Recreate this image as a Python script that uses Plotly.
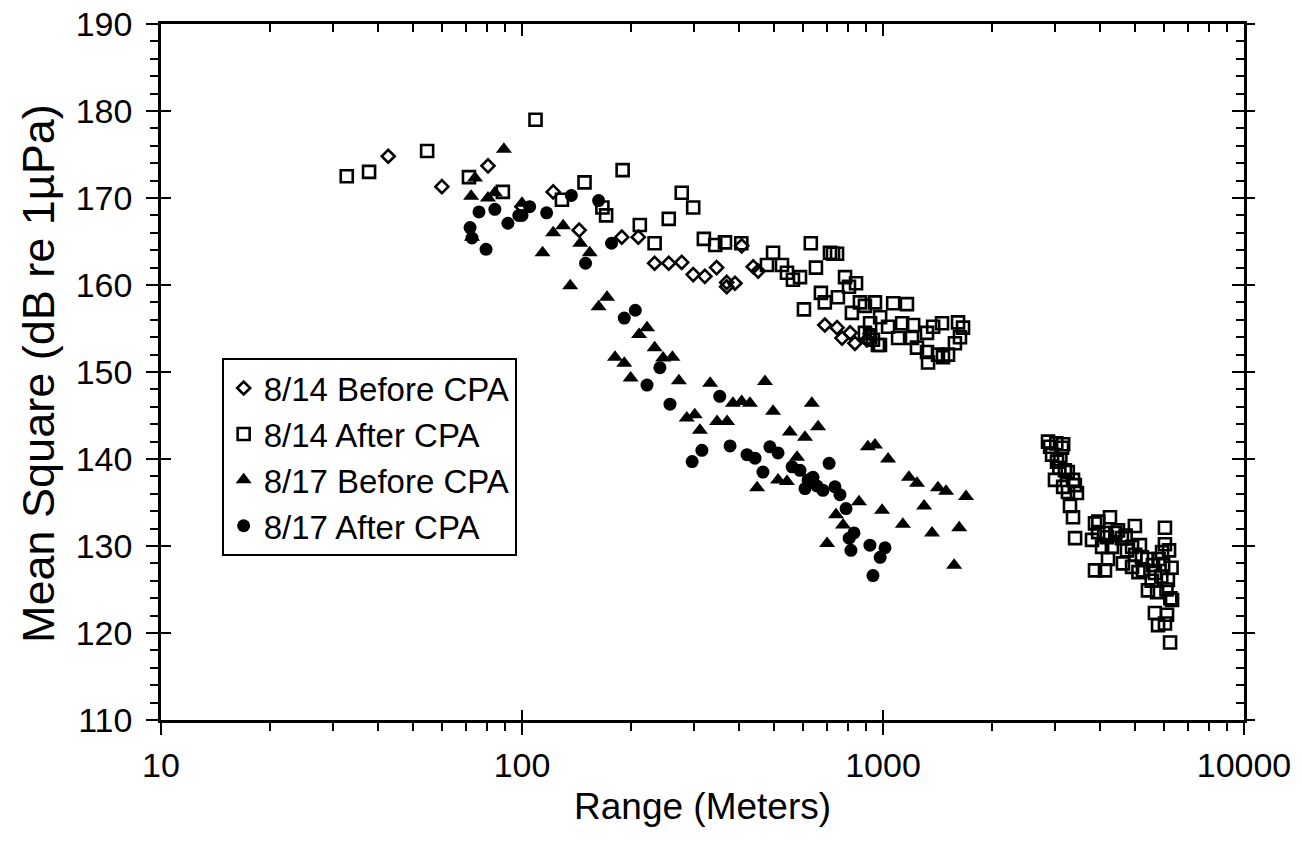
import plotly.graph_objects as go

# ---- data (Range in meters, Mean Square in dB re 1uPa) ----
d14_before_x = [42.6, 60, 80.5, 100, 122, 144, 189, 210, 233, 255, 277, 298, 321, 346, 369, 389, 369,
                406, 437, 451, 690, 746, 770, 811, 836, 903, 921]
d14_before_y = [174.8, 171.3, 173.7, 169.0, 170.7, 166.3, 165.5, 165.5, 162.5, 162.5, 162.6, 161.2, 161.0,
                162.0, 159.8, 160.2, 160.3, 164.5, 162.1, 161.6, 155.4, 155.1, 153.9, 154.5, 153.3, 153.7, 154.4]

d14_after_x = [32.7, 37.7, 54.6, 71.3, 88.5, 109, 129, 149, 167, 171, 190, 212, 233, 255, 277, 298, 319,
               343, 365, 405, 477, 496, 525, 542, 563, 589, 604, 631, 652, 673, 690, 713, 727, 746, 750,
               785, 805, 820, 842, 863, 891, 950, 1067, 1165, 921, 982, 1033, 1130, 1212, 921, 968, 1101,
               1203, 1242, 1324, 1333, 1420, 1466, 1514, 1377, 1457, 1614, 1666, 1634, 1582, 1324, 891,
               938, 981,
               2865, 2904, 2940, 3133, 3155, 3035, 3190, 2995, 3360, 3155, 3254, 3445, 3296, 3360, 3405,
               3020, 3100, 3250, 3400, 3080,
               3866, 4253, 3945, 3793, 4045, 4171, 4477, 4985, 3866, 4120, 4305, 4590, 4740, 4620, 4897,
               5150, 5215, 4897, 5250, 5595, 5665, 6040, 6040, 5930, 5970, 5420, 5745, 6155, 6320, 5665,
               6120, 6040, 5780, 6240,
               3950, 4100, 4400, 4700, 5000, 5400, 5550, 5900, 6100, 6250, 6300, 4200, 5100, 5800, 6200]
d14_after_y = [172.5, 173.0, 175.4, 172.4, 170.7, 179.0, 169.8, 171.8, 168.9, 168.0, 173.2, 166.9, 164.8,
               167.6, 170.6, 168.9, 165.3, 164.6, 164.9, 164.8, 162.3, 163.7, 162.3, 161.4, 160.6, 160.9,
               157.2, 164.8, 162.0, 159.1, 158.0, 163.7, 163.6, 163.6, 158.6, 160.9, 159.8, 156.8, 160.2,
               158.0, 157.6, 158.0, 157.9, 157.8, 155.6, 156.3, 155.2, 155.6, 155.4, 154.0, 153.1, 153.9,
               153.9, 152.8, 152.3, 151.1, 152.0, 151.7, 152.0, 155.2, 155.6, 155.7, 155.1, 154.0, 153.3,
               154.5, 154.5, 153.7, 153.1,
               142.0, 141.4, 140.5, 141.3, 141.7, 139.7, 138.7, 137.6, 137.6, 136.8, 136.2, 136.1, 134.6,
               133.3, 130.9,
               141.8, 140.0, 138.5, 137.0, 139.0,
               132.6, 133.3, 131.6, 130.7, 129.9, 131.0, 131.8, 132.3, 127.2, 127.2, 129.9, 130.9, 129.5,
               128.0, 129.9, 130.1, 128.7, 127.6, 127.2, 127.8, 126.9, 132.1, 130.2, 129.3, 127.8, 124.9,
               124.7, 126.1, 123.8, 122.3, 122.1, 121.1, 120.9, 118.9,
               132.8, 131.5, 131.5, 131.2, 129.0, 128.5, 126.0, 126.5, 125.0, 124.0, 127.5, 128.5, 127.0,
               128.5, 129.5]

d17_before_x = [72.3, 74.1, 80.5, 84.1, 89.1, 72.7, 100, 114, 122, 130, 145, 154, 136, 163, 172, 211, 222,
                233, 181, 192, 246, 261, 200, 272, 332, 471, 384, 406, 428, 496, 635, 286, 301, 347, 370,
                311, 552, 608, 661, 578, 448, 512, 542, 858, 741, 775, 700, 908, 950, 1033, 994, 1135,
                1180, 1242, 1300, 1420, 1495, 1698, 1367, 1626, 1574]
d17_before_y = [170.2, 172.3, 170.0, 170.6, 175.6, 165.5, 169.4, 163.7, 166.0, 166.8, 164.8, 163.7, 159.9,
                157.5, 158.6, 154.3, 155.1, 152.8, 151.7, 151.0, 151.6, 151.7, 149.3, 149.0, 148.7, 148.9,
                146.4, 146.6, 146.4, 145.5, 146.4, 144.7, 145.1, 144.3, 144.3, 143.3, 143.1, 142.5, 143.7,
                140.2, 136.7, 137.6, 137.4, 135.1, 133.6, 132.4, 130.3, 141.4, 141.6, 140.0, 134.1, 132.5,
                137.9, 137.2, 134.6, 136.7, 136.3, 135.7, 131.5, 132.1, 127.8]

d17_after_x = [71.8, 72.7, 76, 79.5, 84.1, 91.4, 98, 100, 105, 117, 137, 150, 163, 177, 192, 206, 241, 222,
               257, 353, 315, 296, 377, 420, 442, 465, 486, 512, 560, 589, 620, 640, 608, 709, 635, 656,
               682, 736, 760, 790, 831, 806, 815, 920, 1013, 982, 938]
d17_after_y = [166.6, 165.4, 168.4, 164.1, 168.7, 167.1, 168.0, 168.0, 169.0, 168.3, 170.3, 162.5, 169.7,
               164.8, 156.2, 157.1, 150.5, 148.5, 146.3, 147.2, 141.0, 139.7, 141.5, 140.5, 140.1, 138.5,
               141.4, 140.7, 139.1, 138.7, 137.6, 137.9, 136.6, 139.5, 137.8, 136.9, 136.4, 136.8, 135.9,
               134.3, 131.5, 130.9, 129.5, 130.1, 129.8, 128.7, 126.6]

series_names = ["8/14 Before CPA", "8/14 After CPA", "8/17 Before CPA", "8/17 After CPA"]
x_tickvals = [10, 100, 1000, 10000]
x_ticktext = ["10", "100", "1000", "10000"]
y_tickvals = [110, 120, 130, 140, 150, 160, 170, 180, 190]

FONT = "Liberation Sans, Arial, sans-serif"
fig = go.Figure()

fig.add_trace(go.Scatter(x=d14_before_x, y=d14_before_y, mode="markers", name=series_names[0],
                         marker=dict(symbol="diamond-open", size=10, color="black", line=dict(width=2.6))))
fig.add_trace(go.Scatter(x=d14_after_x, y=d14_after_y, mode="markers", name=series_names[1],
                         marker=dict(symbol="square-open", size=12, color="black", line=dict(width=2.6))))
fig.add_trace(go.Scatter(x=d17_before_x, y=d17_before_y, mode="markers", name=series_names[2],
                         marker=dict(symbol="triangle-up", size=14, color="black", line=dict(width=0))))
fig.add_trace(go.Scatter(x=d17_after_x, y=d17_after_y, mode="markers", name=series_names[3],
                         marker=dict(symbol="circle", size=13, color="black", line=dict(width=0))))

# dummy traces so overlay axes are drawn
for xa, ya in [("x2", "y2"), ("x3", "y3"), ("x", "y4")]:
    fig.add_trace(go.Scatter(x=[None], y=[None], xaxis=xa, yaxis=ya, showlegend=False,
                             hoverinfo="skip", mode="markers"))

minor_x = [m * 10 ** d for d in (1, 2, 3) for m in range(2, 10)]
xrange_log = [1, 4]
yrange = [110, 190]

common = dict(showgrid=False, zeroline=False, automargin=False)

fig.update_layout(
    width=1302, height=855,
    margin=dict(l=161, r=58, t=24, b=135),
    paper_bgcolor="white", plot_bgcolor="white",
    font=dict(family=FONT, size=33, color="black"),
    xaxis=dict(type="log", range=xrange_log, tickmode="array", tickvals=x_tickvals, ticktext=x_ticktext,
               ticks="outside", ticklen=12, tickwidth=1.5, tickcolor="black",
               minor=dict(tickmode="array", tickvals=minor_x, ticks="outside", ticklen=8,
                          tickwidth=1.5, tickcolor="black", showgrid=False),
               showline=True, linewidth=2.5, linecolor="black",
               ticklabelstandoff=1, tickfont=dict(size=34), **common),
    xaxis2=dict(type="log", range=xrange_log, overlaying="x", side="top", anchor="y2",
                tickmode="array", tickvals=x_tickvals, ticks="inside", ticklen=12, tickwidth=1.5,
                tickcolor="black", showticklabels=False,
                minor=dict(tickmode="array", tickvals=minor_x, ticks="inside", ticklen=8,
                           tickwidth=1.5, tickcolor="black", showgrid=False),
                showline=True, linewidth=2.5, linecolor="black", **common),
    xaxis3=dict(type="log", range=xrange_log, overlaying="x", side="bottom", anchor="y3",
                tickmode="array", tickvals=x_tickvals, ticks="inside", ticklen=10, tickwidth=1.5,
                tickcolor="black", showticklabels=False, showline=False, **common),
    yaxis=dict(range=yrange, tickmode="array", tickvals=y_tickvals,
               ticks="outside", ticklen=12, tickwidth=1.5, tickcolor="black",
               minor=dict(dtick=2, tick0=110, ticks="outside", ticklen=8, tickwidth=1.5,
                          tickcolor="black", showgrid=False),
               showline=True, linewidth=2.5, linecolor="black",
               ticklabelstandoff=7, tickfont=dict(size=34), **common),
    yaxis2=dict(range=yrange, overlaying="y", side="right", anchor="x2",
                tickmode="array", tickvals=y_tickvals, ticks="inside", ticklen=12, tickwidth=1.5,
                tickcolor="black", showticklabels=False,
                minor=dict(dtick=2, tick0=110, ticks="inside", ticklen=8, tickwidth=1.5,
                           tickcolor="black", showgrid=False),
                showline=True, linewidth=2.5, linecolor="black", **common),
    yaxis3=dict(range=yrange, overlaying="y", side="left", anchor="x3",
                tickmode="array", tickvals=y_tickvals, ticks="inside", ticklen=10, tickwidth=1.5,
                tickcolor="black", showticklabels=False, showline=False, **common),
    yaxis4=dict(range=yrange, overlaying="y", side="right", anchor="x",
                tickmode="array", tickvals=y_tickvals, ticks="outside", ticklen=10, tickwidth=1.5,
                tickcolor="black", showticklabels=False, showline=False, **common),
    legend=dict(x=0.056, y=0.520, xanchor="left", yanchor="top",
                bgcolor="white", bordercolor="black", borderwidth=2,
                font=dict(family=FONT, size=33, color="black"),
                itemsizing="trace", tracegroupgap=0, entrywidth=310, entrywidthmode="pixels"),
    showlegend=True,
    annotations=[
        dict(text="Range (Meters)", xref="paper", yref="paper", x=0.5, y=0, yshift=-86,
             xanchor="center", yanchor="middle", showarrow=False,
             font=dict(family=FONT, size=37, color="black")),
        dict(text="Mean Square (dB re 1µPa)", xref="paper", yref="paper", x=0, xshift=-123, y=0.5,
             yshift=-2, xanchor="center", yanchor="middle", textangle=-90, showarrow=False,
             font=dict(family=FONT, size=45, color="black")),
    ],
)

fig.write_html("out.html")
